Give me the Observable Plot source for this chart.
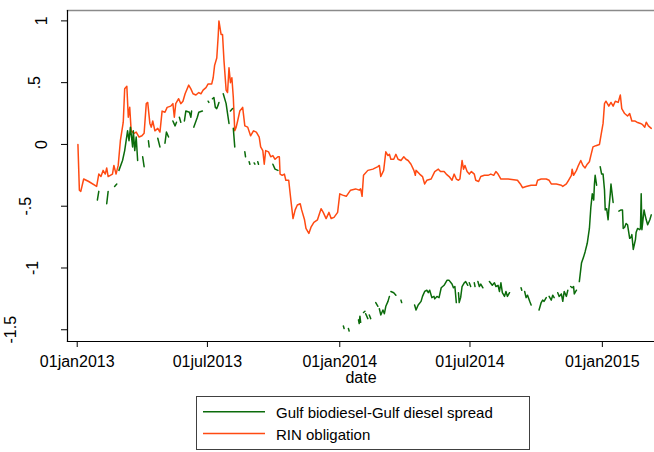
<!DOCTYPE html>
<html><head><meta charset="utf-8">
<script src="https://cdn.jsdelivr.net/npm/d3@7"></script>
<script src="https://cdn.jsdelivr.net/npm/@observablehq/plot@0.6"></script>
<style>
body{margin:0;background:#fff;font-family:"Liberation Sans",Arial,sans-serif;}
#wrap{position:relative;width:654px;height:452px;overflow:hidden;}
svg{display:block;}
</style></head><body><div id="wrap"><div id="chart"></div><div id="legend"></div></div>
<script>
// Series names and colours
const seriesNames = ["Gulf biodiesel-Gulf diesel spread", "RIN obligation"];
const seriesColors = ["#0b6b0b", "#ff4a12"];

// Axis ticks
const xTicks = ["2013-01-01", "2013-07-01", "2014-01-01", "2014-07-01", "2015-01-01"];
const xTickLabels = ["01jan2013", "01jul2013", "01jan2014", "01jul2014", "01jan2015"];
const yTicks = [-1.5, -1, -0.5, 0, 0.5, 1];
const yTickLabels = ["-1.5", "-1", "-.5", "0", ".5", "1"];
const xDomain = ["2012-12-18T12:00Z", "2015-03-14T12:00Z"];
const yDomain = [-1.595, 1.084];

// RIN obligation
const rinDates = [
"2013-01-02","2013-01-04","2013-01-06","2013-01-10","2013-01-17","2013-01-28","2013-01-31","2013-02-03","2013-02-06","2013-02-09",
"2013-02-11","2013-02-13","2013-02-19","2013-02-21","2013-02-24","2013-02-27","2013-03-02","2013-03-06","2013-03-08","2013-03-11",
"2013-03-13","2013-03-15","2013-03-17","2013-03-21","2013-03-24","2013-03-28","2013-04-01","2013-04-04","2013-04-07","2013-04-09",
"2013-04-12","2013-04-14","2013-04-16","2013-04-19","2013-04-23","2013-04-26","2013-04-29","2013-05-03","2013-05-06","2013-05-11",
"2013-05-14","2013-05-16","2013-05-18","2013-05-22","2013-05-25","2013-05-28","2013-05-31","2013-06-05","2013-06-08","2013-06-11",
"2013-06-15","2013-06-19","2013-06-22","2013-06-25","2013-06-29","2013-07-02","2013-07-07","2013-07-09","2013-07-11","2013-07-14",
"2013-07-16","2013-07-17","2013-07-20","2013-07-22","2013-07-24","2013-07-27","2013-07-29","2013-07-31","2013-08-02","2013-08-04",
"2013-08-06","2013-08-08","2013-08-10","2013-08-12","2013-08-15","2013-08-19","2013-08-22","2013-08-26","2013-08-30","2013-09-03",
"2013-09-07","2013-09-11","2013-09-13","2013-09-16","2013-09-18","2013-09-20","2013-09-24","2013-09-27","2013-09-30","2013-10-03",
"2013-10-07","2013-10-09","2013-10-10","2013-10-13","2013-10-16","2013-10-18","2013-10-22","2013-10-25","2013-10-28","2013-10-31",
"2013-11-03","2013-11-07","2013-11-09","2013-11-13","2013-11-15","2013-11-19","2013-11-22","2013-11-26","2013-12-01","2013-12-06",
"2013-12-09","2013-12-13","2013-12-17","2013-12-20","2013-12-24","2013-12-29",
"2014-01-01","2014-01-05","2014-01-10","2014-01-16","2014-01-23","2014-01-28","2014-01-30","2014-02-01","2014-02-03","2014-02-09",
"2014-02-16","2014-02-23","2014-02-25","2014-02-27","2014-03-03","2014-03-06","2014-03-09","2014-03-11","2014-03-13","2014-03-17",
"2014-03-20","2014-03-23","2014-03-27","2014-03-31","2014-04-03","2014-04-06","2014-04-10","2014-04-14","2014-04-16","2014-04-17",
"2014-04-22","2014-04-26","2014-04-29","2014-05-02","2014-05-08","2014-05-13","2014-05-18","2014-05-21","2014-05-26","2014-05-29",
"2014-06-02","2014-06-06","2014-06-09","2014-06-12","2014-06-15","2014-06-17","2014-06-20","2014-06-22","2014-06-24","2014-06-27",
"2014-06-30","2014-07-03","2014-07-07","2014-07-09","2014-07-13","2014-07-16","2014-07-21","2014-07-26","2014-07-30","2014-08-03",
"2014-08-06","2014-08-09","2014-08-13","2014-08-23","2014-09-05","2014-09-09","2014-09-12","2014-09-17","2014-09-24","2014-10-01",
"2014-10-03","2014-10-08","2014-10-15","2014-10-19","2014-10-22","2014-10-29","2014-11-05","2014-11-07","2014-11-12","2014-11-15",
"2014-11-19","2014-11-20","2014-11-22","2014-11-26","2014-11-28","2014-12-02","2014-12-05","2014-12-08","2014-12-11","2014-12-14",
"2014-12-16","2014-12-19","2014-12-23","2014-12-28","2014-12-30",
"2015-01-02","2015-01-04","2015-01-06","2015-01-10","2015-01-13","2015-01-16","2015-01-19","2015-01-23","2015-01-26","2015-01-28",
"2015-02-01","2015-02-05","2015-02-08","2015-02-11","2015-02-15","2015-02-18","2015-02-23","2015-02-26","2015-03-01","2015-03-03",
"2015-03-06","2015-03-10"];
const rinValues = [
0.00,-0.37,-0.38,-0.28,-0.30,-0.34,-0.24,-0.26,-0.21,-0.24,
-0.19,-0.26,-0.24,-0.17,-0.24,-0.17,0.03,0.18,0.45,0.47,
0.22,0.30,0.11,0.09,0.10,0.06,0.07,0.09,0.33,0.34,
0.17,0.14,0.19,0.11,0.13,0.10,0.27,0.26,0.30,0.31,
0.33,0.22,0.33,0.37,0.33,0.35,0.41,0.48,0.45,0.41,
0.40,0.42,0.41,0.44,0.46,0.49,0.49,0.54,0.64,0.70,
0.88,1.00,0.89,0.89,0.68,0.44,0.42,0.62,0.50,0.54,
0.38,0.11,0.14,0.19,0.27,0.30,0.15,0.14,0.07,0.11,
0.10,0.06,-0.02,-0.05,-0.16,-0.05,-0.06,-0.10,-0.09,-0.12,
-0.10,-0.10,-0.24,-0.25,-0.24,-0.29,-0.29,-0.45,-0.60,-0.53,
-0.49,-0.48,-0.53,-0.61,-0.68,-0.72,-0.67,-0.63,-0.61,-0.52,
-0.55,-0.60,-0.55,-0.60,-0.59,-0.55,
-0.40,-0.41,-0.42,-0.37,-0.36,-0.37,-0.36,-0.42,-0.25,-0.21,
-0.20,-0.18,-0.17,-0.26,-0.21,-0.06,-0.09,-0.08,-0.12,-0.12,
-0.08,-0.12,-0.13,-0.10,-0.12,-0.13,-0.16,-0.21,-0.25,-0.21,
-0.24,-0.26,-0.32,-0.29,-0.28,-0.22,-0.20,-0.22,-0.22,-0.24,
-0.26,-0.29,-0.24,-0.28,-0.29,-0.28,-0.13,-0.20,-0.17,-0.22,
-0.24,-0.22,-0.24,-0.29,-0.30,-0.26,-0.25,-0.25,-0.24,-0.25,
-0.22,-0.24,-0.28,-0.28,-0.29,-0.32,-0.35,-0.34,-0.33,-0.33,
-0.29,-0.28,-0.28,-0.29,-0.32,-0.32,-0.33,-0.34,-0.32,-0.29,
-0.25,-0.20,-0.25,-0.21,-0.18,-0.13,-0.17,-0.19,-0.16,-0.14,
-0.09,-0.02,-0.01,0.00,0.07,
0.17,0.33,0.35,0.31,0.34,0.31,0.35,0.34,0.40,0.29,
0.25,0.23,0.25,0.19,0.19,0.18,0.17,0.16,0.14,0.18,
0.15,0.13];

// Gulf biodiesel-Gulf diesel spread (null = missing data, breaks the line)
const spreadDates = [
"2013-01-29","2013-01-31",null,"2013-02-11","2013-02-13",null,"2013-02-22","2013-02-25",null,
"2013-02-28","2013-03-05","2013-03-08","2013-03-12","2013-03-14","2013-03-16","2013-03-19","2013-03-20","2013-03-22","2013-03-24","2013-03-26",null,
"2013-04-02","2013-04-04",null,"2013-04-10","2013-04-11",null,"2013-04-23","2013-04-26",null,
"2013-05-03","2013-05-05","2013-05-08",null,"2013-05-14","2013-05-17","2013-05-19",null,"2013-05-23","2013-05-25",null,
"2013-05-30","2013-06-01","2013-06-06","2013-06-08","2013-06-09",null,
"2013-06-12","2013-06-17","2013-06-19","2013-06-24",null,"2013-07-02","2013-07-03",null,
"2013-07-08","2013-07-10","2013-07-12","2013-07-14","2013-07-16","2013-07-17",null,
"2013-07-23","2013-07-27","2013-07-29","2013-07-31",null,"2013-08-02","2013-08-05",null,"2013-08-06","2013-08-08",null,
"2013-08-22","2013-08-23",null,"2013-08-28","2013-08-29",null,"2013-09-04","2013-09-05",null,"2013-09-09","2013-09-10",null,
"2013-09-30","2013-10-03","2013-10-07",null,
"2014-01-06","2014-01-07",null,"2014-01-13","2014-01-14",null,
"2014-01-27","2014-01-28","2014-01-29","2014-01-30",null,"2014-02-03","2014-02-05",null,"2014-02-06","2014-02-09",null,
"2014-02-11","2014-02-13",null,"2014-02-20","2014-02-23",null,
"2014-02-25","2014-02-27","2014-03-02","2014-03-04","2014-03-06","2014-03-09","2014-03-11",null,
"2014-03-13","2014-03-17","2014-03-20",null,"2014-03-27","2014-03-28",null,
"2014-04-15","2014-04-17","2014-04-20","2014-04-24","2014-04-26","2014-04-29","2014-05-02","2014-05-04","2014-05-06","2014-05-09",
"2014-05-12","2014-05-13","2014-05-16","2014-05-19","2014-05-22","2014-05-26","2014-05-30","2014-06-02","2014-06-06","2014-06-08",
"2014-06-10","2014-06-12",null,
"2014-06-15","2014-06-16","2014-06-18","2014-06-20","2014-06-23","2014-06-25","2014-06-28",null,
"2014-06-30","2014-07-02",null,"2014-07-07","2014-07-08",null,"2014-07-12","2014-07-14","2014-07-16","2014-07-19",null,
"2014-07-28","2014-08-01","2014-08-04","2014-08-06","2014-08-09","2014-08-11","2014-08-13","2014-08-15","2014-08-18","2014-08-20",
"2014-08-22","2014-08-25",null,"2014-09-10","2014-09-11",null,
"2014-09-15","2014-09-17","2014-09-19","2014-09-22","2014-09-24",null,
"2014-10-05","2014-10-08","2014-10-10","2014-10-12","2014-10-15",null,
"2014-10-19","2014-10-22","2014-10-24","2014-10-26",null,
"2014-10-31","2014-11-02","2014-11-05","2014-11-07","2014-11-09","2014-11-12","2014-11-14",null,
"2014-11-18","2014-11-20","2014-11-22","2014-11-23","2014-11-26",null,
"2014-11-30","2014-12-03","2014-12-06","2014-12-08","2014-12-11","2014-12-14","2014-12-16","2014-12-18","2014-12-20","2014-12-21",
"2014-12-22","2014-12-24",null,
"2014-12-29","2014-12-31","2015-01-02","2015-01-04","2015-01-05","2015-01-07","2015-01-09","2015-01-10","2015-01-12","2015-01-13",
"2015-01-15","2015-01-16",null,
"2015-01-24","2015-01-27","2015-01-29","2015-01-30","2015-02-01","2015-02-03","2015-02-05","2015-02-08","2015-02-10","2015-02-11",
"2015-02-13","2015-02-16","2015-02-17","2015-02-19","2015-02-22","2015-02-23","2015-02-24","2015-02-25","2015-02-28","2015-03-01",
"2015-03-03","2015-03-05","2015-03-08","2015-03-10"];
const spreadValues = [
-0.45,-0.38,null,-0.48,-0.38,null,-0.34,-0.32,null,
-0.21,-0.13,-0.05,0.11,0.03,0.14,-0.02,0.11,-0.05,0.06,-0.13,null,
-0.10,-0.18,null,0.03,-0.02,null,0.05,-0.02,null,
0.01,0.10,0.06,null,0.19,0.15,0.18,null,0.22,0.18,null,
0.19,0.27,0.26,0.22,0.27,null,
0.14,0.22,0.26,0.27,null,0.35,0.34,null,
0.37,0.38,0.30,0.29,0.32,0.34,null,
0.41,0.33,0.25,0.17,null,0.27,0.29,null,0.13,-0.02,null,
-0.06,-0.10,null,-0.14,-0.16,null,-0.15,-0.16,null,-0.14,-0.16,null,
-0.16,-0.20,-0.21,null,
-1.47,-1.49,null,-1.49,-1.51,null,
-1.42,-1.45,-1.39,-1.44,null,-1.36,-1.35,null,-1.37,-1.41,null,
-1.38,-1.41,null,-1.28,-1.31,null,
-1.33,-1.38,-1.34,-1.37,-1.31,-1.27,-1.23,null,
-1.19,-1.20,-1.22,null,-1.26,-1.28,null,
-1.30,-1.34,-1.30,-1.27,-1.23,-1.19,-1.18,-1.20,-1.18,-1.24,
-1.23,-1.25,-1.23,-1.24,-1.16,-1.14,-1.10,-1.10,-1.13,-1.16,
-1.15,-1.28,null,
-1.20,-1.28,-1.24,-1.15,-1.12,-1.11,-1.14,null,
-1.12,-1.15,null,-1.12,-1.15,null,-1.11,-1.15,-1.13,-1.16,null,
-1.11,-1.14,-1.12,-1.15,-1.14,-1.19,-1.12,-1.20,-1.23,-1.19,
-1.23,-1.20,null,-1.16,-1.18,null,
-1.19,-1.24,-1.22,-1.27,-1.30,null,
-1.34,-1.28,-1.26,-1.27,-1.24,null,
-1.23,-1.26,-1.22,-1.24,null,
-1.20,-1.23,-1.21,-1.27,-1.19,-1.23,-1.18,null,
-1.15,-1.16,-1.15,-1.21,-1.18,null,
-1.11,-0.96,-0.91,-0.87,-0.80,-0.68,-0.51,-0.40,-0.45,-0.32,
-0.25,-0.33,null,
-0.18,-0.24,-0.24,-0.37,-0.53,-0.52,-0.61,-0.53,-0.40,-0.32,
-0.42,-0.47,null,
-0.54,-0.53,-0.53,-0.68,-0.67,-0.64,-0.65,-0.76,-0.75,-0.73,
-0.85,-0.77,-0.71,-0.68,-0.69,-0.68,-0.40,-0.69,-0.53,-0.56,
-0.61,-0.65,-0.61,-0.57];

const rin = rinDates.map((d, i) => ({date: new Date(d), value: rinValues[i]}));
const spread = spreadDates.map((d, i) => ({date: d ? new Date(d) : null, value: spreadValues[i]}));

const xTickDates = xTicks.map(d => new Date(d));
const font = "'Liberation Sans', Arial, sans-serif";

// Stata places vertical y labels further from the axis the longer they are
const ctx = document.createElement("canvas").getContext("2d");
ctx.font = "16px 'Liberation Sans', Arial, sans-serif";
const yLabelMarks = yTicks.map((t, i) => {
  const w = ctx.measureText(yTickLabels[i]).width;
  return Plot.text([t], {
    y: d => d, frameAnchor: "left", text: () => yTickLabels[i],
    rotate: -90, textAnchor: "middle", lineAnchor: "middle",
    fontSize: 16, fill: "#000", dx: -10 - 1.7 * w
  });
});

const chart = Plot.plot({
  width: 654,
  height: 390,
  marginTop: 10,
  marginBottom: 49,
  marginLeft: 67,
  marginRight: 0,
  style: {fontFamily: font, fontSize: "16px", color: "#000", background: "#fff", overflow: "visible"},
  x: {type: "utc", domain: xDomain.map(d => new Date(d))},
  y: {domain: yDomain},
  marks: [
    Plot.frame({anchor: "top", stroke: "#8a8a8a", strokeWidth: 1.5}),
    Plot.line(rin, {x: "date", y: "value", stroke: seriesColors[1], strokeWidth: 1.5}),
    Plot.line(spread, {x: "date", y: "value", stroke: seriesColors[0], strokeWidth: 1.5}),
    Plot.axisX({
      ticks: xTickDates,
      tickFormat: d => xTickLabels[xTickDates.findIndex(t => +t === +d)],
      tickSize: 6, tickPadding: 8, fontSize: 16,
      label: "date", labelAnchor: "center", labelArrow: "none", labelOffset: 41
    }),
    Plot.axisY({ticks: yTicks, tickSize: 6, text: null, label: null}),
    ...yLabelMarks,
    Plot.frame({anchor: "left", stroke: "#000", strokeWidth: 1.2}),
    Plot.frame({anchor: "bottom", stroke: "#000", strokeWidth: 1.2})
  ]
});
document.getElementById("chart").appendChild(chart);

// Legend (below the plot)
const leg = d3.select("#legend").append("svg").attr("width", 654).attr("height", 62)
  .style("font-family", font);
leg.append("rect").attr("x", 196.5).attr("y", 6.5).attr("width", 333).attr("height", 53)
  .attr("fill", "#fff").attr("stroke", "#404040").attr("stroke-width", 1);
seriesNames.forEach((name, i) => {
  const yLine = 21.7 + i * 21.7;
  leg.append("line").attr("x1", 203).attr("x2", 265).attr("y1", yLine).attr("y2", yLine)
    .attr("stroke", seriesColors[i]).attr("stroke-width", 1.5);
  leg.append("text").attr("x", 276).attr("y", 28 + i * 22).attr("font-size", 15)
    .attr("fill", "#000").text(name);
});
</script></body></html>
